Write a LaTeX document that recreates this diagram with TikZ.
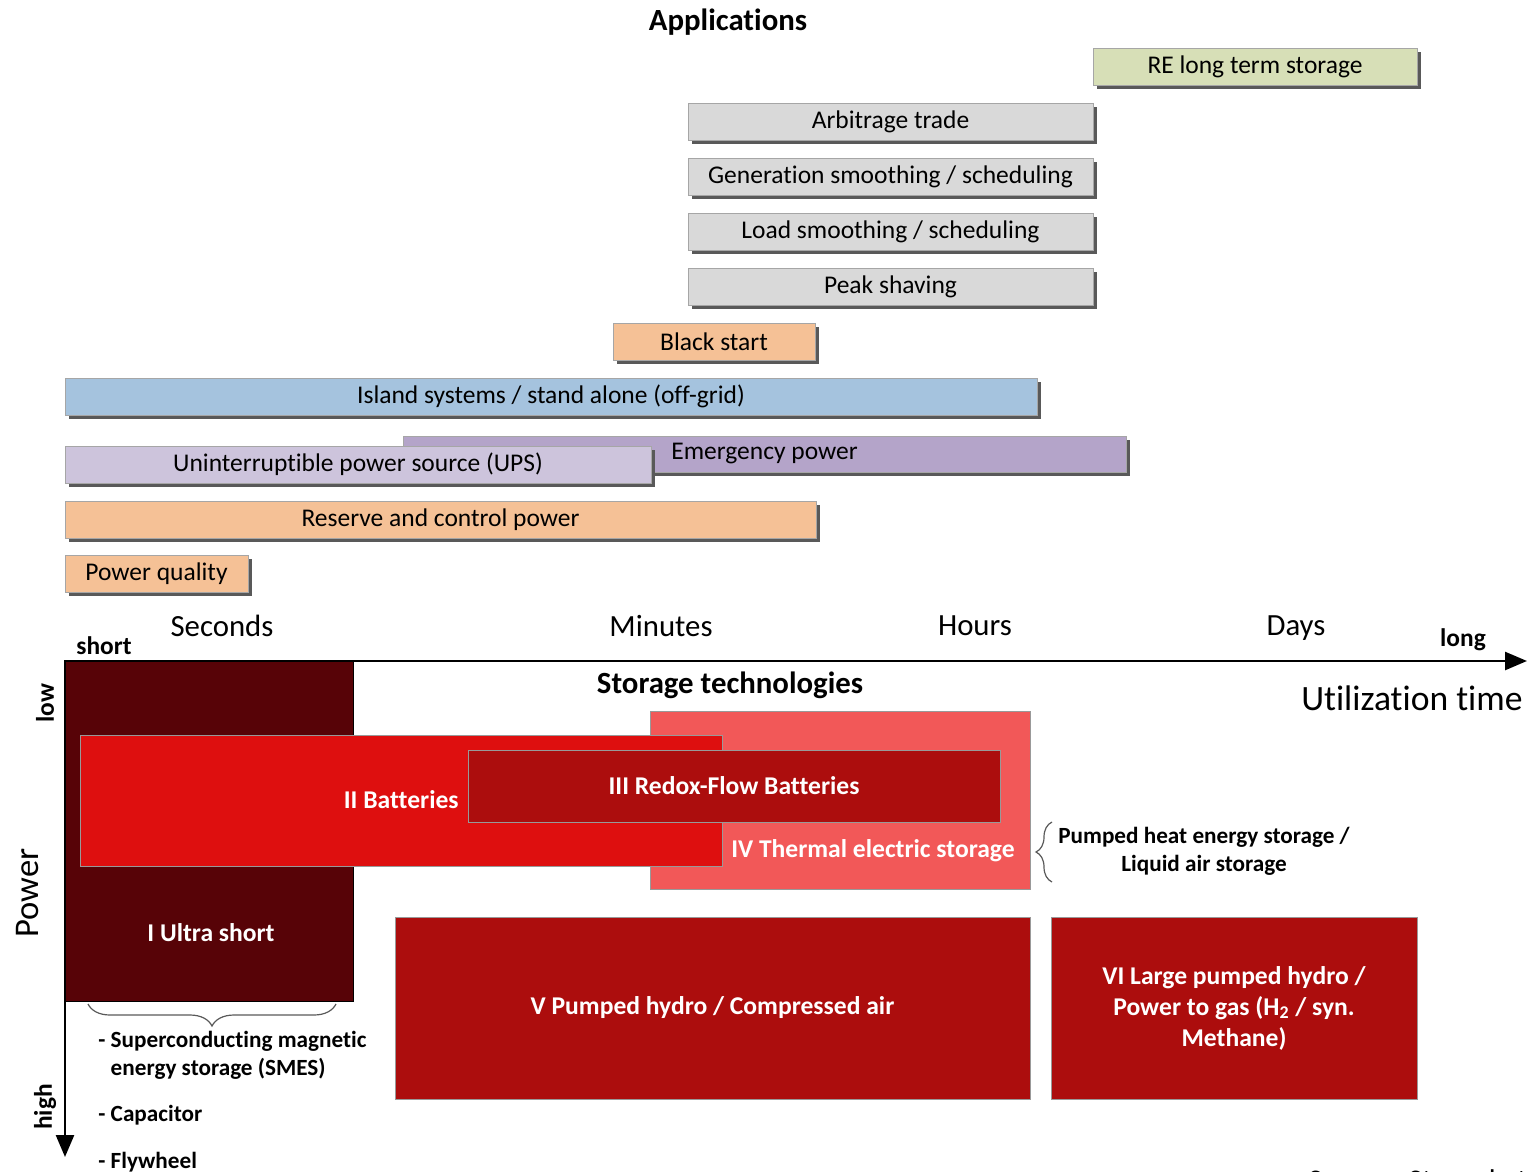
\documentclass[tikz,border=0pt]{standalone}
\usepackage{fontspec}
\setmainfont{Carlito}[Ligatures=NoCommon]
\usetikzlibrary{arrows.meta, positioning, calc, shadows, decorations.pathreplacing}
\definecolor{cPeach}{RGB}{245,193,150}
\definecolor{cGreyLt}{RGB}{217,217,217}
\definecolor{cGreenLt}{RGB}{215,223,183}
\definecolor{cBlueLt}{RGB}{165,195,222}
\definecolor{cLilac}{RGB}{180,164,201}
\definecolor{cLilacLt}{RGB}{205,196,220}
\definecolor{cMaroon}{RGB}{87,3,7}
\definecolor{cRedA}{RGB}{222,15,15}
\definecolor{cRedB}{RGB}{172,13,13}
\definecolor{cRedC}{RGB}{242,88,88}
\tikzset{
	appbar/.style={rectangle, draw=black!35, line width=0.4pt, minimum height=18.5pt, inner sep=0pt, font=\fontsize{12.75}{15}\selectfont, drop shadow={shadow xshift=2pt, shadow yshift=-2pt, fill=black!65, opacity=1}},
	techbox/.style={rectangle, draw=black!40, line width=0.4pt, inner sep=0pt, text=white, align=center, font=\bfseries\fontsize{12.8}{15.5}\selectfont},
	techlabel/.style={inner sep=0pt, text=white, font=\bfseries\fontsize{12.8}{15.5}\selectfont},
	headfont/.style={font=\bfseries\fontsize{15.4}{18}\selectfont},
	timefont/.style={font=\fontsize{15.4}{18}\selectfont},
	endfont/.style={font=\bfseries\fontsize{12.7}{15}\selectfont},
	notefont/.style={inner sep=0pt, font=\bfseries\fontsize{11.6}{14}\selectfont},
	axisarrow/.style={-{Triangle[length=11pt, width=9pt]}, line width=1.25pt},
	% curly brackets
	bracket/.style={draw=black!65, line width=0.6pt, decorate},
}
\begin{document}
\begin{tikzpicture}[x=0.5pt, y=-0.5pt]
	\useasboundingbox (0,0) rectangle (1536,1172);
	% applications
	\node[headfont] (apphead) at (728,22) {Applications};
	\node[appbar, fill=cGreenLt, minimum width=162pt] (relong) at (1255,67) {RE long term storage};
	\node[appbar, fill=cGreyLt, minimum width=202.5pt] (arbitrage) at (890.5,121.5) {Arbitrage trade};
	\node[appbar, fill=cGreyLt, minimum width=202.5pt] (gensmooth) at (890.5,176.5) {Generation smoothing / scheduling};
	\node[appbar, fill=cGreyLt, minimum width=202.5pt] (loadsmooth) at (890.5,231.5) {Load smoothing / scheduling};
	\node[appbar, fill=cGreyLt, minimum width=202.5pt] (peak) at (890.5,286.5) {Peak shaving};
	\node[appbar, fill=cPeach, minimum width=101pt] (blackstart) at (714,341.5) {Black start};
	\node[appbar, fill=cBlueLt, minimum width=486pt] (island) at (551,396.5) {Island systems / stand alone (off-grid)};
	\node[appbar, fill=cLilac, minimum width=361.5pt, minimum height=18pt] (emergency) at (764.5,454) {Emergency power};
	\node[appbar, fill=cLilacLt, minimum width=293pt] (ups) at (358,464.5) {Uninterruptible power source (UPS)};
	\node[appbar, fill=cPeach, minimum width=375.5pt] (reserve) at (440.5,519.5) {Reserve and control power};
	\node[appbar, fill=cPeach, minimum width=91.5pt] (quality) at (156.5,573.5) {Power quality};
	% time scale
	\node[timefont] (seconds) at (222,626) {Seconds};
	\node[timefont] (minutes) at (661,626) {Minutes};
	\node[timefont] (hours) at (975,626) {Hours};
	\node[timefont] (days) at (1296,628) {Days};
	% storage technologies
	\node[techbox, fill=cMaroon, draw=black, minimum width=144pt, minimum height=170pt] (ultra) at (209,831) {};
	\node[techbox, fill=cRedC, minimum width=190pt, minimum height=89pt] (thermal) at (840,800) {};
	\node[techbox, fill=cRedA, minimum width=321pt, minimum height=65.5pt] (batteries) at (401,800.5) {};
	\node[techbox, fill=cRedB, minimum width=266pt, minimum height=36pt] (redox) at (734,786) {III Redox-Flow Batteries};
	\node[techbox, fill=cRedB, minimum width=317.5pt, minimum height=91pt] (pumped) at (712.5,1008) {V Pumped hydro / Compressed air};
	\node[techbox, fill=cRedB, minimum width=183pt, minimum height=91pt] (large) at (1234,1008) {VI Large pumped hydro /\\ Power to gas (H\textsubscript{2} / syn.\\ Methane)};
	\node[techlabel] (ultralbl) at (211,933) {I Ultra short};
	\node[techlabel, anchor=east] (battlbl) at (459,800) {II Batteries};
	\node[techlabel] (thermallbl) at (873,851) {IV Thermal electric storage};
	\node[headfont] (techhead) at (730,685) {Storage technologies};
	% axes
	\coordinate (origin) at (65,661);
	\coordinate (xend) at (1527,661);
	\coordinate (yend) at (65,1157);
	\draw[axisarrow] (origin) -- (xend);
	\draw[axisarrow] ($(origin)+(0,-1)$) -- (yend);
	\node[endfont] (short) at (104,646) {short};
	\node[endfont] (long) at (1463,640) {long};
	\node[font=\fontsize{17.8}{20}\selectfont, anchor=east, inner sep=0pt] (utiltime) at (1523,698) {Utilization time};
	\node[endfont, rotate=90] (low) at (45,703) {low};
	\node[endfont, rotate=90] (high) at (45,1107) {high};
	\node[font=\fontsize{17.3}{20}\selectfont, rotate=90] (power) at (28,893) {Power};
	% notes
	\coordinate (brA) at (88,1004);
	\coordinate (brB) at (336,1004);
	\draw[bracket, decoration={brace, mirror, amplitude=11pt}] (brA) -- (brB);
	\coordinate (brC) at (1052,882);
	\coordinate (brD) at (1052,822);
	\draw[bracket, decoration={brace, amplitude=8pt}] (brC) -- (brD);
	\node[notefont, align=left, anchor=west] (smes) at (98,1055) {- Superconducting magnetic\\\hphantom{- }energy storage (SMES)};
	\node[notefont, anchor=west] (capacitor) at (98,1115) {- Capacitor};
	\node[notefont, anchor=west] (flywheel) at (98,1162) {- Flywheel};
	\node[notefont, align=center] (heatair) at (1204,851) {Pumped heat energy storage /\\ Liquid air storage};
	\node[font=\fontsize{15}{18}\selectfont, anchor=base west, inner sep=0pt] (source) at (1308,1190) {Source: Stenzel et al.};
\end{tikzpicture}
\end{document}
